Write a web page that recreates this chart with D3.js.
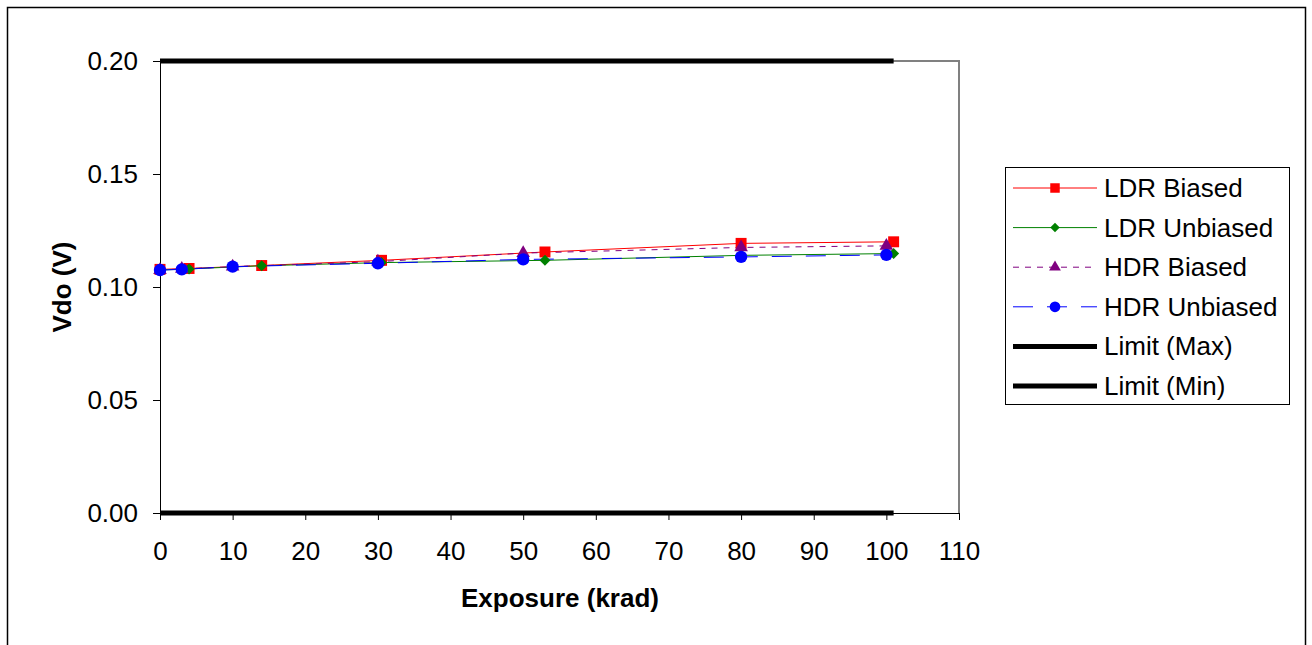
<!DOCTYPE html>
<html>
<head>
<meta charset="utf-8">
<style>
  body { margin: 0; background: #fff; }
  text { font-family: "Liberation Sans", Arial, sans-serif; }
</style>
</head>
<body>
<div id="chart-area"></div>
<script src="https://cdn.jsdelivr.net/npm/d3@7/dist/d3.min.js"></script>
<script>
// data
const ldrX = [0, 4, 14, 30.5, 53, 80, 101];
const ldrBiased = [0.1078, 0.1082, 0.1095, 0.1118, 0.1155, 0.1193, 0.1200];
const ldrUnbiased = [0.1075, 0.1080, 0.1094, 0.1108, 0.1118, 0.1140, 0.1148];
const hdrX = [0, 3, 10, 30, 50, 80, 100];
const hdrBiased = [0.1075, 0.1080, 0.1090, 0.1112, 0.1150, 0.1175, 0.1182];
const hdrUnbiased = [0.1075, 0.1078, 0.1090, 0.1105, 0.1122, 0.1133, 0.1142];
const limitX = [0, 101];
const limitMax = [0.20, 0.20];
const limitMin = [0.00, 0.00];
const xTicks = d3.range(0, 111, 10);
const yTicks = [0, 0.05, 0.10, 0.15, 0.20];

const width = 1312, height = 645;
const svg = d3.select("#chart-area").append("svg")
    .attr("width", width).attr("height", height);

// outer frame
svg.append("rect").attr("x", 7.5).attr("y", 7.5)
    .attr("width", 1298).attr("height", 660)
    .attr("fill", "none").attr("stroke", "#000").attr("stroke-width", 1.5);

const x = d3.scaleLinear().domain([0, 110]).range([160, 959]);
const y = d3.scaleLinear().domain([0, 0.20]).range([513, 61]);

// plot frame: grey top/right
svg.append("path")
    .attr("d", `M${x(0)},${y(0.2)}H${x(110)}V${y(0)}`)
    .attr("fill", "none").attr("stroke", "#808080").attr("stroke-width", 2);

const xAxis = svg.append("g").attr("transform", `translate(0,${y(0)})`)
    .call(d3.axisBottom(x).tickValues(xTicks).tickSize(7).tickPadding(22).tickSizeOuter(0));
const yAxis = svg.append("g").attr("transform", `translate(${x(0)},0)`)
    .call(d3.axisLeft(y).tickValues(yTicks).tickFormat(d3.format(".2f")).tickSize(7).tickPadding(15).tickSizeOuter(0));
[xAxis, yAxis].forEach(g => {
  g.selectAll("text").style("font-size", "26px").attr("fill", "#000")
      .style("font-family", '"Liberation Sans", Arial, sans-serif');
  g.selectAll("line,path").attr("stroke", "#000");
});

svg.append("text").attr("x", 560).attr("y", 607).attr("text-anchor", "middle")
    .style("font-size", "26px").style("font-weight", "bold").text("Exposure (krad)");
svg.append("text").attr("transform", "translate(71,287) rotate(-90)").attr("text-anchor", "middle")
    .style("font-size", "26px").style("font-weight", "bold").text("Vdo (V)");

const series = [
  {name: "LDR Biased", xs: ldrX, ys: ldrBiased, color: "#ff0000", dash: null, sym: d3.symbolSquare, size: 120, rot: 0},
  {name: "LDR Unbiased", xs: ldrX, ys: ldrUnbiased, color: "#008000", dash: null, sym: d3.symbolSquare, size: 60, rot: 45},
  {name: "HDR Biased", xs: hdrX, ys: hdrBiased, color: "#800080", dash: "6,6", sym: d3.symbolTriangle, size: 80, rot: 0},
  {name: "HDR Unbiased", xs: hdrX, ys: hdrUnbiased, color: "#0000ff", dash: "20,14", sym: d3.symbolCircle, size: 120, rot: 0},
  {name: "Limit (Max)", xs: limitX, ys: limitMax, color: "#000", dash: null, sym: null, width: 5},
  {name: "Limit (Min)", xs: limitX, ys: limitMin, color: "#000", dash: null, sym: null, width: 5}
];

const line = d3.line().x(d => x(d[0])).y(d => y(d[1]));
series.forEach(s => {
  const pts = s.xs.map((v, i) => [v, s.ys[i]]);
  svg.append("path").datum(pts).attr("d", line)
      .attr("fill", "none").attr("stroke", s.color)
      .attr("stroke-width", s.width || 1)
      .attr("stroke-dasharray", s.dash);
});
series.forEach(s => {
  if (!s.sym) return;
  const pts = s.xs.map((v, i) => [v, s.ys[i]]);
  svg.selectAll(null).data(pts).enter().append("path")
      .attr("d", d3.symbol().type(s.sym).size(s.size))
      .attr("transform", d => `translate(${x(d[0])},${y(d[1])}) rotate(${s.rot})`)
      .attr("fill", s.color);
});

// legend
const lg = svg.append("g");
lg.append("rect").attr("x", 1005.5).attr("y", 167.5).attr("width", 284).attr("height", 237)
    .attr("fill", "#fff").attr("stroke", "#000").attr("stroke-width", 1);
series.forEach((s, i) => {
  const ly = 188 + i * 39.6;
  lg.append("line").attr("x1", 1013).attr("x2", 1097).attr("y1", ly).attr("y2", ly)
      .attr("stroke", s.color).attr("stroke-width", s.width || 1)
      .attr("stroke-dasharray", s.dash);
  if (s.sym) {
    lg.append("path").attr("d", d3.symbol().type(s.sym).size(s.size * 0.75))
        .attr("transform", `translate(1055,${ly}) rotate(${s.rot})`).attr("fill", s.color);
  }
  lg.append("text").attr("x", 1104).attr("y", ly + 9)
      .style("font-size", "26px").text(s.name);
});
</script>
</body>
</html>
